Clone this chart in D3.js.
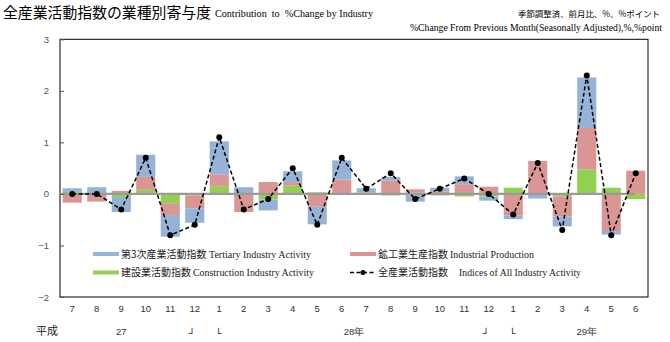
<!DOCTYPE html>
<html><head><meta charset="utf-8">
<script src="https://cdn.jsdelivr.net/npm/d3@7"></script>
<style>
body{margin:0;background:#fff;}
svg{display:block;}
</style></head>
<body>
<svg id="c" width="670" height="342"></svg>
<script>
const months = ["7","8","9","10","11","12","1","2","3","4","5","6","7","8","9","10","11","12","1","2","3","4","5","6"];
const tertiary = [0.07, 0.13, -0.29, 0.43, -0.42, -0.28, 0.64, 0.13, -0.21, 0.21, -0.34, 0.37, 0.08, 0.07, -0.15, 0.07, 0.15, -0.08, -0.07, -0.09, -0.19, 0.98, -0.07, 0.0];
const industrial = [-0.17, -0.15, 0.06, 0.25, -0.23, -0.25, 0.23, -0.35, 0.23, 0.07, -0.25, 0.28, 0.0, 0.26, 0.06, 0.05, 0.19, 0.14, -0.42, 0.64, -0.39, 0.81, -0.72, 0.45];
const construction = [0.04, 0.0, -0.06, 0.08, -0.18, -0.03, 0.15, 0.0, -0.11, 0.16, 0.03, 0.0, 0.03, -0.03, 0.03, -0.03, -0.05, -0.05, 0.12, 0.0, -0.05, 0.47, 0.12, -0.1];
const allIndustry = [0.0, 0.0, -0.3, 0.7, -0.8, -0.6, 1.1, -0.3, -0.1, 0.5, -0.6, 0.7, 0.1, 0.4, -0.1, 0.1, 0.3, 0.0, -0.4, 0.6, -0.7, 2.3, -0.8, 0.4];
const yTicks = [-2, -1, 0, 1, 2, 3];
const yearLabels = [{t:"27", i:2}, {t:"28年", i:11.5}, {t:"29年", i:21}];

const svg = d3.select("#c");
const L = 60, R = 648, T = 39.3, B = 297;
const colors = {construction:"#92d050", industrial:"#d99694", tertiary:"#95b3d7"};
const JP = "'Noto Sans CJK JP', sans-serif";
const SERIF = "'Liberation Serif', 'Times New Roman', serif";
const SANS = "'Liberation Sans', Arial, sans-serif";

const x = d3.scaleBand().domain(d3.range(months.length)).range([L, R]).paddingInner(0.22).paddingOuter(0.11);
const y = d3.scaleLinear().domain([-2, 3]).range([B, T]);

const rows = months.map((m, i) => ({i, construction: construction[i], industrial: industrial[i], tertiary: tertiary[i]}));
const keys = ["construction", "industrial", "tertiary"];
const series = d3.stack().keys(keys).offset(d3.stackOffsetDiverging)(rows);

// frame
svg.append("rect").attr("x", L).attr("y", T).attr("width", R - L).attr("height", B - T)
  .attr("fill", "none").attr("stroke", "#000").attr("stroke-width", 1);

// bars
svg.append("g").selectAll("g").data(series).join("g")
  .attr("fill", d => colors[d.key])
  .selectAll("rect").data(d => d).join("rect")
  .attr("x", d => x(d.data.i))
  .attr("width", x.bandwidth())
  .attr("y", d => y(Math.max(d[0], d[1])))
  .attr("height", d => Math.abs(y(d[0]) - y(d[1])));

// zero line
svg.append("line").attr("x1", L).attr("x2", x(months.length - 1) + x.bandwidth() / 2 - 1)
  .attr("y1", y(0)).attr("y2", y(0)).attr("stroke", "#9a9a9a").attr("stroke-width", 2.2);

// all-industry line
const line = d3.line().x((d, i) => x(i) + x.bandwidth() / 2).y(d => y(d));
svg.append("path").datum(allIndustry).attr("d", line).attr("fill", "none")
  .attr("stroke", "#000").attr("stroke-width", 1.5).attr("stroke-dasharray", "4,2.5");
svg.append("g").selectAll("circle").data(allIndustry).join("circle")
  .attr("cx", (d, i) => x(i) + x.bandwidth() / 2).attr("cy", d => y(d)).attr("r", 3).attr("fill", "#000");

// y axis
const yAxis = svg.append("g").attr("transform", `translate(${L},0)`)
  .call(d3.axisLeft(y).tickValues(yTicks).tickSize(-4).tickPadding(11).tickFormat(d3.format("d")));
yAxis.select(".domain").remove();
yAxis.selectAll(".tick line").attr("stroke", "#555");
yAxis.selectAll("text").attr("font-family", SANS).attr("font-size", 9.5).attr("fill", "#555");

// x axis
const xAxis = svg.append("g").attr("transform", `translate(0,${B})`)
  .call(d3.axisBottom(x).tickSize(0).tickPadding(8).tickFormat(i => months[i]));
xAxis.select(".domain").remove();
xAxis.selectAll("text").attr("font-family", SANS).attr("font-size", 9.5).attr("fill", "#333");

// year row
const yr = 335;
svg.append("text").attr("x", 36).attr("y", yr).attr("font-family", JP).attr("font-size", 11).attr("fill", "#222").text("平成");
svg.append("g").selectAll("text").data(yearLabels).join("text")
  .attr("x", d => x(0) + x.bandwidth() / 2 + d.i * x.step())
  .attr("y", yr).attr("text-anchor", "middle")
  .attr("font-family", SANS).attr("font-size", 9.5).attr("fill", "#333")
  .text(d => d.t);
[[5, "┘"], [6, "└"], [17, "┘"], [18, "└"]].forEach(([i, ch]) => {
  svg.append("text").attr("x", x(i) + x.bandwidth() / 2 + (ch === "┘" ? -3 : -1)).attr("y", yr + 1.5)
    .attr("text-anchor", "middle").attr("font-family", "'DejaVu Sans', sans-serif")
    .attr("font-size", 10).attr("font-weight", "bold").attr("fill", "#222").text(ch);
});

// title
svg.append("text").attr("x", 3).attr("y", 18).attr("font-family", JP).attr("font-size", 15)
  .attr("fill", "#000").attr("textLength", 208).attr("lengthAdjust", "spacingAndGlyphs").text("全産業活動指数の業種別寄与度");
svg.append("text").attr("x", 215).attr("y", 17).attr("font-family", SERIF).attr("font-size", 9.5)
  .attr("fill", "#000").attr("textLength", 158).attr("lengthAdjust", "spacingAndGlyphs")
  .attr("xml:space", "preserve").text("Contribution  to  %Change by Industry");
svg.append("text").attr("x", 518).attr("y", 17).attr("font-family", JP).attr("font-size", 8.5)
  .attr("fill", "#000").attr("textLength", 142).attr("lengthAdjust", "spacingAndGlyphs").text("季節調整済、前月比、%、%ポイント");
svg.append("text").attr("x", 410).attr("y", 31).attr("font-family", SERIF).attr("font-size", 10)
  .attr("fill", "#000").attr("textLength", 252).attr("lengthAdjust", "spacingAndGlyphs")
  .text("%Change From Previous Month(Seasonally Adjusted),%,%point");

// legend
const legend = [
  {type:"bar", color: colors.tertiary, jp:"第3次産業活動指数", en:"Tertiary Industry Activity", x:93, y:254, jx:121, ex:209, ew:102},
  {type:"bar", color: colors.industrial, jp:"鉱工業生産指数", en:"Industrial Production", x:350, y:254, jx:378, ex:450, ew:84},
  {type:"bar", color: colors.construction, jp:"建設業活動指数", en:"Construction Industry Activity", x:93, y:272.5, jx:121, ex:193, ew:121},
  {type:"line", color:"#000", jp:"全産業活動指数", en:"Indices of All Industry Activity", x:350, y:272.5, jx:378, ex:459, ew:122}
];
const lg = svg.append("g");
legend.forEach(d => {
  if (d.type === "bar") {
    lg.append("rect").attr("x", d.x).attr("y", d.y - 2).attr("width", 26).attr("height", 4).attr("fill", d.color);
  } else {
    lg.append("line").attr("x1", d.x).attr("x2", d.x + 26).attr("y1", d.y).attr("y2", d.y)
      .attr("stroke", "#000").attr("stroke-width", 1.5).attr("stroke-dasharray", "4,2.5");
    lg.append("circle").attr("cx", d.x + 13).attr("cy", d.y).attr("r", 2.5).attr("fill", "#000");
  }
  lg.append("text").attr("x", d.jx).attr("y", d.y + 3.5).attr("font-family", JP).attr("font-size", 10)
    .attr("fill", "#222").text(d.jp);
  lg.append("text").attr("x", d.ex).attr("y", d.y + 3.5).attr("font-family", SERIF).attr("font-size", 10)
    .attr("fill", "#222").attr("textLength", d.ew).attr("lengthAdjust", "spacingAndGlyphs").text(d.en);
});
</script>
</body></html>
